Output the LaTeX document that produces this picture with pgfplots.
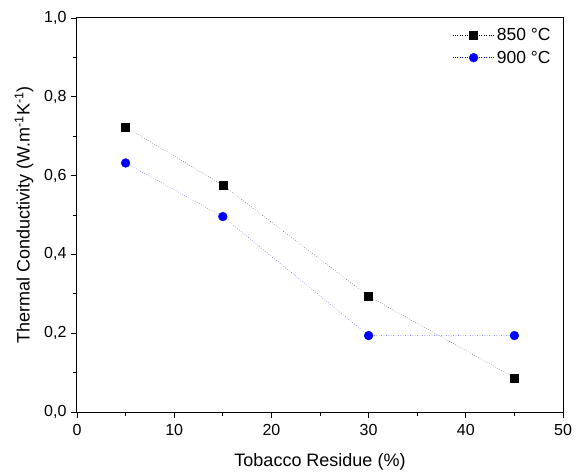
\documentclass[border=0pt]{standalone}
\usepackage{fontspec}
\setmainfont{Liberation Sans}
\usepackage{pgfplots}
\pgfplotsset{compat=1.18}

\begin{document}
\begin{tikzpicture}
\begin{axis}[
    name=ax,
    scale only axis,
    width=486pt, height=394pt,
    xmin=0, xmax=50, ymin=0, ymax=1.0,
    xtick={0,10,...,50}, ytick={0,0.2,...,1.0},
    minor x tick num=1, minor y tick num=1,
    tick align=outside,
    xtick pos=bottom, ytick pos=left,
    major tick length=6pt, minor tick length=4pt,
    axis line style={line width=1pt},
    every tick/.style={black, line width=0.8pt},
    font=\fontsize{16}{18}\selectfont,
    /pgf/number format/assume math mode=true,
    yticklabel style={/tikz/xshift=-1pt, /pgf/number format/.cd, use comma, fixed, fixed zerofill, precision=1},
    xticklabel style={yshift=-3pt},
    xlabel={Tobacco Residue (\%)},
    ylabel={Thermal Conductivity (W.m\textsuperscript{-1}K\textsuperscript{-1})},
    label style={font=\fontsize{18}{20}\selectfont},
    xlabel style={yshift=-11pt},
    ylabel style={yshift=4pt},
    legend style={draw=none, fill=none, at={(0.985,0.985)}, anchor=north east,
        font=\fontsize{17.5}{19}\selectfont, row sep=5pt},
    legend cell align=left,
    legend image code/.code={%
        \draw[mark repeat=2, mark phase=2, #1]
            plot coordinates {(0pt,0pt) (21pt,0pt) (42pt,0pt)};},
]
\addplot[black, dotted, thin, mark=square*, mark size=4pt, mark options={solid}]
    coordinates {(5,0.723) (15,0.576) (30,0.294) (45,0.087)};
\addlegendentry{850 °C}
\addplot[blue, dotted, thin, mark=*, mark size=4.4pt, mark options={solid}]
    coordinates {(5,0.632) (15,0.496) (30,0.194) (45,0.194)};
\addlegendentry{900 °C}
\end{axis}
\path (ax.south west) ++(-77pt,-57pt) coordinate (a);
\path (ax.north east) ++(20pt,18pt) coordinate (b);
\path[use as bounding box] (a) rectangle (b);
\end{tikzpicture}
\end{document}
